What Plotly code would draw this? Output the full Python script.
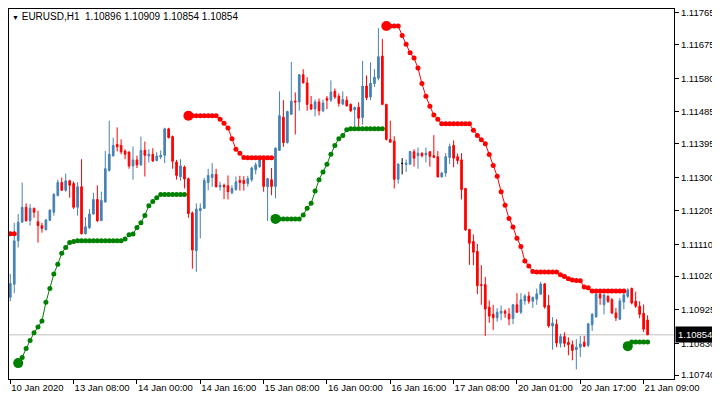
import plotly.graph_objects as go

# EURUSD H1 bars
bar_open = [
    1.10960, 1.10997, 1.11120, 1.11173, 1.11215, 1.11177, 1.11212, 1.11174, 1.11163, 1.11151,
    1.11178, 1.11201, 1.11248, 1.11285, 1.11263, 1.11290, 1.11282, 1.11215, 1.11273, 1.11140,
    1.11157, 1.11196, 1.11237, 1.11177, 1.11230, 1.11319, 1.11360, 1.11393, 1.11390, 1.11374,
    1.11371, 1.11332, 1.11349, 1.11335, 1.11376, 1.11360, 1.11365, 1.11347, 1.11357, 1.11362,
    1.11437, 1.11415, 1.11343, 1.11301, 1.11329, 1.11296, 1.11199, 1.11092, 1.11205, 1.11212,
    1.11285, 1.11299, 1.11308, 1.11273, 1.11277, 1.11276, 1.11256, 1.11265, 1.11291, 1.11291,
    1.11282, 1.11293, 1.11321, 1.11330, 1.11349, 1.11273, 1.11293, 1.11274, 1.11376, 1.11470,
    1.11398, 1.11478, 1.11515, 1.11513, 1.11590, 1.11567, 1.11506, 1.11493, 1.11513, 1.11488,
    1.11523, 1.11518, 1.11543, 1.11529, 1.11507, 1.11518, 1.11506, 1.11491, 1.11498, 1.11469,
    1.11558, 1.11527, 1.11565, 1.11580, 1.11643, 1.11506, 1.11407, 1.11402, 1.11294, 1.11339,
    1.11336, 1.11337, 1.11372, 1.11361, 1.11368, 1.11363, 1.11372, 1.11361, 1.11358, 1.11301,
    1.11312, 1.11356, 1.11390, 1.11358, 1.11349, 1.11268, 1.11152, 1.11118, 1.11090, 1.10996,
    1.10996, 1.10932, 1.10912, 1.10902, 1.10915, 1.10921, 1.10913, 1.10900, 1.10939, 1.10918,
    1.10950, 1.10964, 1.10949, 1.10955, 1.10969, 1.10998, 1.10937, 1.10879, 1.10884, 1.10830,
    1.10849, 1.10833, 1.10826, 1.10812, 1.10819, 1.10833, 1.10824, 1.10882, 1.10905, 1.10969,
    1.10939, 1.10963, 1.10953, 1.10916, 1.10898, 1.10947, 1.10963, 1.10985, 1.10949, 1.10935,
    1.10915, 1.10896,
]
bar_high = [
    1.11026, 1.11171, 1.11196, 1.11285, 1.11226, 1.11224, 1.11214, 1.11205, 1.11171, 1.11182,
    1.11209, 1.11254, 1.11293, 1.11299, 1.11310, 1.11293, 1.11288, 1.11286, 1.11351, 1.11187,
    1.11210, 1.11256, 1.11277, 1.11259, 1.11374, 1.11460, 1.11412, 1.11441, 1.11407, 1.11379,
    1.11373, 1.11387, 1.11361, 1.11415, 1.11401, 1.11379, 1.11382, 1.11371, 1.11376, 1.11440,
    1.11440, 1.11418, 1.11349, 1.11351, 1.11333, 1.11299, 1.11203, 1.11226, 1.11226, 1.11298,
    1.11324, 1.11340, 1.11324, 1.11287, 1.11282, 1.11305, 1.11277, 1.11302, 1.11304, 1.11303,
    1.11304, 1.11330, 1.11342, 1.11354, 1.11352, 1.11298, 1.11326, 1.11384, 1.11543, 1.11518,
    1.11488, 1.11626, 1.11540, 1.11592, 1.11606, 1.11583, 1.11530, 1.11520, 1.11523, 1.11520,
    1.11530, 1.11574, 1.11551, 1.11537, 1.11543, 1.11529, 1.11509, 1.11500, 1.11512, 1.11629,
    1.11588, 1.11625, 1.11606, 1.11722, 1.11691, 1.11508, 1.11460, 1.11416, 1.11340, 1.11354,
    1.11350, 1.11374, 1.11379, 1.11384, 1.11370, 1.11384, 1.11374, 1.11419, 1.11374, 1.11315,
    1.11368, 1.11395, 1.11404, 1.11367, 1.11368, 1.11270, 1.11154, 1.11138, 1.11111, 1.11051,
    1.11018, 1.10951, 1.10939, 1.10930, 1.10937, 1.10926, 1.10930, 1.10941, 1.10972, 1.10972,
    1.10969, 1.10976, 1.10962, 1.10985, 1.11004, 1.11001, 1.10967, 1.10904, 1.10898, 1.10857,
    1.10861, 1.10847, 1.10838, 1.10842, 1.10851, 1.10851, 1.10888, 1.10916, 1.10972, 1.10972,
    1.10969, 1.10967, 1.10958, 1.10930, 1.10958, 1.10972, 1.10986, 1.10988, 1.10976, 1.10949,
    1.10940, 1.10909,
]
bar_low = [
    1.10949, 1.10972, 1.11101, 1.11171, 1.11174, 1.11163, 1.11185, 1.11115, 1.11143, 1.11150,
    1.11176, 1.11191, 1.11246, 1.11262, 1.11259, 1.11242, 1.11210, 1.11191, 1.11138, 1.11138,
    1.11154, 1.11194, 1.11173, 1.11176, 1.11228, 1.11316, 1.11359, 1.11373, 1.11365, 1.11351,
    1.11324, 1.11293, 1.11326, 1.11332, 1.11302, 1.11342, 1.11343, 1.11345, 1.11351, 1.11340,
    1.11410, 1.11324, 1.11293, 1.11290, 1.11268, 1.11185, 1.11041, 1.11032, 1.11127, 1.11210,
    1.11263, 1.11273, 1.11271, 1.11262, 1.11238, 1.11237, 1.11252, 1.11262, 1.11262, 1.11262,
    1.11273, 1.11287, 1.11308, 1.11326, 1.11259, 1.11176, 1.11249, 1.11240, 1.11374, 1.11386,
    1.11395, 1.11476, 1.11421, 1.11488, 1.11565, 1.11488, 1.11490, 1.11472, 1.11475, 1.11484,
    1.11493, 1.11513, 1.11521, 1.11500, 1.11504, 1.11500, 1.11484, 1.11444, 1.11444, 1.11449,
    1.11518, 1.11518, 1.11555, 1.11574, 1.11504, 1.11404, 1.11398, 1.11268, 1.11282, 1.11308,
    1.11315, 1.11335, 1.11330, 1.11324, 1.11356, 1.11342, 1.11330, 1.11354, 1.11299, 1.11299,
    1.11301, 1.11337, 1.11328, 1.11337, 1.11237, 1.11148, 1.11052, 1.11051, 1.10969, 1.10939,
    1.10851, 1.10888, 1.10868, 1.10891, 1.10895, 1.10902, 1.10881, 1.10884, 1.10916, 1.10913,
    1.10939, 1.10942, 1.10930, 1.10939, 1.10967, 1.10928, 1.10874, 1.10812, 1.10819, 1.10818,
    1.10819, 1.10796, 1.10782, 1.10756, 1.10791, 1.10819, 1.10819, 1.10865, 1.10902, 1.10939,
    1.10912, 1.10944, 1.10912, 1.10893, 1.10896, 1.10926, 1.10958, 1.10940, 1.10930, 1.10901,
    1.10862, 1.10854,
]
bar_close = [
    1.10999, 1.11120, 1.11173, 1.11215, 1.11177, 1.11212, 1.11201, 1.11163, 1.11155, 1.11179,
    1.11207, 1.11252, 1.11285, 1.11263, 1.11290, 1.11277, 1.11215, 1.11273, 1.11140, 1.11160,
    1.11196, 1.11237, 1.11177, 1.11234, 1.11324, 1.11365, 1.11390, 1.11386, 1.11372, 1.11365,
    1.11332, 1.11349, 1.11335, 1.11376, 1.11362, 1.11365, 1.11346, 1.11360, 1.11362, 1.11437,
    1.11412, 1.11345, 1.11305, 1.11332, 1.11295, 1.11197, 1.11094, 1.11210, 1.11212, 1.11291,
    1.11305, 1.11308, 1.11273, 1.11277, 1.11273, 1.11259, 1.11268, 1.11287, 1.11285, 1.11282,
    1.11296, 1.11326, 1.11335, 1.11349, 1.11274, 1.11296, 1.11274, 1.11382, 1.11474, 1.11398,
    1.11486, 1.11515, 1.11513, 1.11590, 1.11567, 1.11506, 1.11493, 1.11513, 1.11488, 1.11510,
    1.11518, 1.11541, 1.11527, 1.11509, 1.11520, 1.11502, 1.11488, 1.11497, 1.11467, 1.11558,
    1.11525, 1.11566, 1.11583, 1.11641, 1.11506, 1.11407, 1.11399, 1.11294, 1.11337, 1.11339,
    1.11340, 1.11373, 1.11354, 1.11368, 1.11361, 1.11368, 1.11359, 1.11356, 1.11301, 1.11312,
    1.11358, 1.11387, 1.11354, 1.11347, 1.11265, 1.11151, 1.11113, 1.11088, 1.10993, 1.10994,
    1.10927, 1.10907, 1.10902, 1.10918, 1.10921, 1.10915, 1.10899, 1.10939, 1.10918, 1.10953,
    1.10964, 1.10949, 1.10960, 1.10970, 1.10998, 1.10933, 1.10879, 1.10887, 1.10831, 1.10849,
    1.10830, 1.10826, 1.10810, 1.10819, 1.10828, 1.10822, 1.10885, 1.10912, 1.10969, 1.10958,
    1.10967, 1.10949, 1.10916, 1.10902, 1.10950, 1.10967, 1.10981, 1.10944, 1.10935, 1.10912,
    1.10870, 1.10854,
]

# trailing stop indicator: red above price, green below (None = not active)
red_stop = [
    1.11140, 1.11140, None, None, None, None, None, None, None, None,
    None, None, None, None, None, None, None, None, None, None,
    None, None, None, None, None, None, None, None, None, None,
    None, None, None, None, None, None, None, None, None, None,
    None, None, None, None, None, 1.11474, 1.11474, 1.11474, 1.11474, 1.11474,
    1.11474, 1.11474, 1.11474, 1.11464, 1.11453, 1.11439, 1.11409, 1.11379, 1.11368, 1.11356,
    1.11355, 1.11355, 1.11355, 1.11355, 1.11355, 1.11355, 1.11355, None, None, None,
    None, None, None, None, None, None, None, None, None, None,
    None, None, None, None, None, None, None, None, None, None,
    None, None, None, None, None, 1.11728, 1.11728, 1.11728, 1.11728, 1.11701,
    1.11676, 1.11652, 1.11637, 1.11609, 1.11565, 1.11529, 1.11501, 1.11476, 1.11464, 1.11451,
    1.11451, 1.11451, 1.11451, 1.11451, 1.11451, 1.11451, 1.11451, 1.11433, 1.11418, 1.11406,
    1.11395, 1.11364, 1.11333, 1.11303, 1.11259, 1.11221, 1.11183, 1.11159, 1.11127, 1.11104,
    1.11063, 1.11049, 1.11033, 1.11032, 1.11032, 1.11032, 1.11032, 1.11032, 1.11032, 1.11024,
    1.11019, 1.11013, 1.11009, 1.11008, 1.11007, 1.10989, 1.10987, 1.10978, 1.10978, 1.10978,
    1.10978, 1.10978, 1.10978, 1.10978, 1.10978, 1.10978, None, None, None, None,
    None, None,
]
green_stop = [
    None, None, 1.10774, 1.10790, 1.10815, 1.10838, 1.10860, 1.10876, 1.10893, 1.10946,
    1.10985, 1.11026, 1.11054, 1.11085, 1.11101, 1.11115, 1.11118, 1.11120, 1.11120, 1.11120,
    1.11120, 1.11120, 1.11120, 1.11120, 1.11120, 1.11120, 1.11120, 1.11120, 1.11120, 1.11125,
    1.11137, 1.11139, 1.11158, 1.11171, 1.11192, 1.11219, 1.11231, 1.11242, 1.11251, 1.11251,
    1.11251, 1.11251, 1.11251, 1.11251, 1.11251, None, None, None, None, None,
    None, None, None, None, None, None, None, None, None, None,
    None, None, None, None, None, None, None, 1.11182, 1.11182, 1.11182,
    1.11182, 1.11182, 1.11182, 1.11182, 1.11193, 1.11212, 1.11226, 1.11261, 1.11293, 1.11315,
    1.11337, 1.11365, 1.11390, 1.11409, 1.11418, 1.11434, 1.11437, 1.11437, 1.11437, 1.11437,
    1.11437, 1.11437, 1.11437, 1.11437, 1.11437, None, None, None, None, None,
    None, None, None, None, None, None, None, None, None, None,
    None, None, None, None, None, None, None, None, None, None,
    None, None, None, None, None, None, None, None, None, None,
    None, None, None, None, None, None, None, None, None, None,
    None, None, None, None, None, None, None, None, None, None,
    None, None, None, None, None, None, 1.10822, 1.10834, 1.10834, 1.10834,
    1.10834, 1.10834,
]

tick_index = [0, 16, 32, 48, 64, 80, 96, 112, 128, 144, 160]
tick_labels = ["10 Jan 2020", "13 Jan 08:00", "14 Jan 00:00", "14 Jan 16:00",
               "15 Jan 08:00", "16 Jan 00:00", "16 Jan 16:00", "17 Jan 08:00",
               "20 Jan 01:00", "20 Jan 17:00", "21 Jan 09:00"]
price_ticks = [1.11765, 1.11675, 1.11580, 1.11485, 1.11395, 1.11300,
               1.11205, 1.11110, 1.11020, 1.10925, 1.10830, 1.10740]

BULL = "#4682B4"
BEAR = "#FF0000"
FONT = "Liberation Sans"
FSIZE = 9.5

idx = list(range(len(bar_open)))


# split bars: normal candles and doji (open == close, drawn black)
def pick(rows, keep):
    return [v for i, v in enumerate(rows) if keep(i)]


is_doji = lambda i: bar_open[i] == bar_close[i]
not_doji = lambda i: bar_open[i] != bar_close[i]


# first point of each stop segment gets the big dot
def segment_starts(stop):
    xs, ys = [], []
    for i in range(1, len(stop)):
        if stop[i] is not None and stop[i - 1] is None:
            xs.append(i)
            ys.append(stop[i])
    return xs, ys


fig = go.Figure()

fig.add_trace(go.Candlestick(
    x=pick(idx, not_doji), open=pick(bar_open, not_doji), high=pick(bar_high, not_doji),
    low=pick(bar_low, not_doji), close=pick(bar_close, not_doji),
    increasing=dict(line=dict(color=BULL, width=1), fillcolor=BULL),
    decreasing=dict(line=dict(color=BEAR, width=1), fillcolor=BEAR),
    whiskerwidth=0, showlegend=False, hoverinfo="skip"))

fig.add_trace(go.Candlestick(
    x=pick(idx, is_doji), open=pick(bar_open, is_doji), high=pick(bar_high, is_doji),
    low=pick(bar_low, is_doji), close=pick(bar_close, is_doji),
    increasing=dict(line=dict(color="black", width=1), fillcolor="black"),
    decreasing=dict(line=dict(color="black", width=1), fillcolor="black"),
    whiskerwidth=0, showlegend=False, hoverinfo="skip"))

for stop, color in [(red_stop, "#FF0000"), (green_stop, "#008000")]:
    fig.add_trace(go.Scatter(
        x=idx, y=stop, mode="lines+markers", connectgaps=False,
        line=dict(color=color, width=1), marker=dict(color=color, size=5),
        showlegend=False, hoverinfo="skip"))
    sx, sy = segment_starts(stop)
    fig.add_trace(go.Scatter(
        x=sx, y=sy, mode="markers", marker=dict(color=color, size=10),
        showlegend=False, hoverinfo="skip"))

last = len(bar_close) - 1

# bid line
fig.add_shape(type="line", xref="paper", x0=0, x1=1, yref="y",
              y0=bar_close[last], y1=bar_close[last],
              line=dict(color="#C0C0C0", width=1), layer="below")

title = ('<span style="font-size:7px">▼</span> EURUSD,H1&nbsp;&nbsp;'
         f"{bar_open[last]:.5f} {bar_high[last]:.5f} {bar_low[last]:.5f} {bar_close[last]:.5f}")
fig.add_annotation(text=title, xref="paper", yref="paper", x=0, y=1,
                   xanchor="left", yanchor="top", xshift=1, yshift=0,
                   showarrow=False, font=dict(family=FONT, size=10, color="black"))

fig.add_annotation(text=f"{bar_close[last]:.5f}", xref="paper", yref="y",
                   x=1, y=bar_close[last], xanchor="left", yanchor="middle", xshift=1,
                   showarrow=False, bgcolor="black", borderpad=2,
                   font=dict(family=FONT, size=FSIZE, color="white"))

# the page body adds an 8px offset, so the figure is 8px smaller than the window
fig.update_layout(
    width=712, height=392,
    margin=dict(l=1, r=46, t=1, b=21, autoexpand=False),
    paper_bgcolor="white", plot_bgcolor="white",
    boxgap=0.4,
    font=dict(family=FONT, size=FSIZE, color="black"),
)

fig.update_xaxes(
    range=[-0.325, 167.675], tickvals=tick_index, ticktext=tick_labels,
    ticks="outside", ticklen=4, tickcolor="black", ticklabelposition="outside right",
    tickangle=0, automargin=False,
    showline=True, linecolor="black", linewidth=1, mirror=True,
    showgrid=False, zeroline=False, rangeslider_visible=False,
    tickfont=dict(family=FONT, size=FSIZE, color="black"))

fig.update_yaxes(
    range=[1.10729, 1.11776], side="right", tickvals=price_ticks, tickformat=".5f",
    ticks="outside", ticklen=4, tickcolor="black", automargin=False,
    ticklabeloverflow="allow",
    showline=True, linecolor="black", linewidth=1, mirror=True,
    showgrid=False, zeroline=False,
    tickfont=dict(family=FONT, size=FSIZE, color="black"))

fig.write_html("out.html")
